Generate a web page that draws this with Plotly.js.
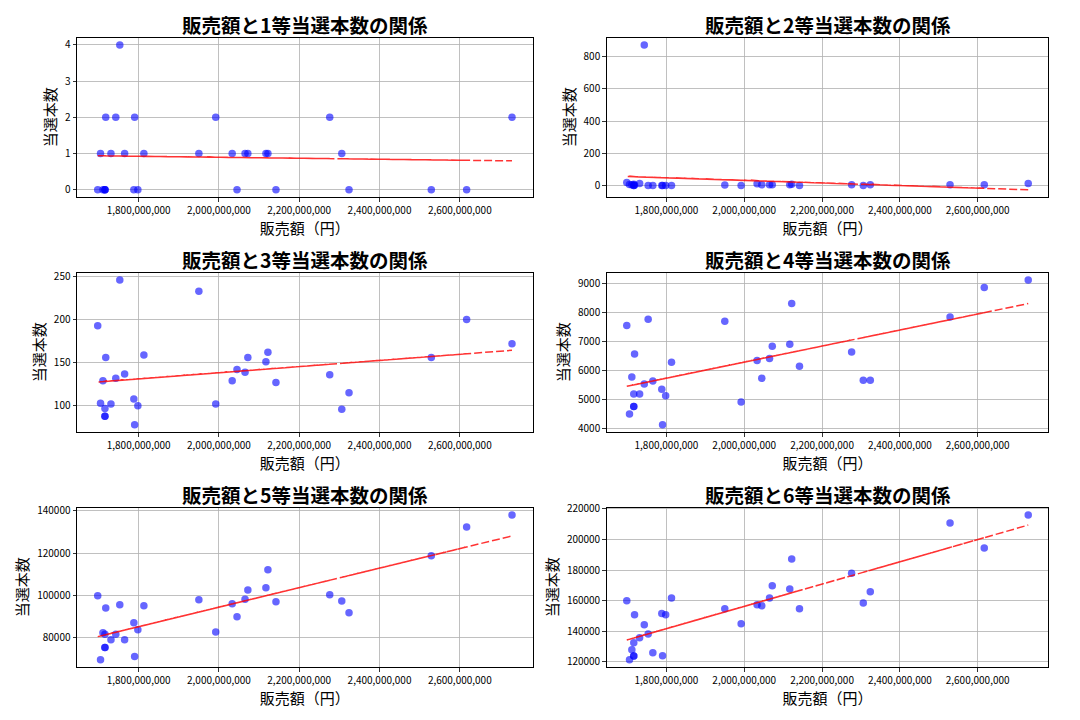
<!DOCTYPE html>
<html>
<head>
<meta charset="utf-8">
<script src="https://cdn.plot.ly/plotly-3.0.1.min.js"></script>
<style>
  html, body { margin: 0; padding: 0; background: #fff; }
  #chart { width: 1080px; height: 720px; }
</style>
</head>
<body>
<div id="chart"></div>
<script>
// Sales per draw (yen), listed in the data's row order
const sales = [1950e6, 1711e6, 2122e6, 1753e6, 2033e6, 1698e6, 2276e6, 1790e6, 2065e6, 1731e6,
               1716e6, 1716e6, 2117e6, 1765e6, 1992e6, 1813e6, 1716e6, 2072e6, 1788e6, 1705e6,
               2142e6, 1743e6, 2045e6, 1798e6, 1718e6, 2617e6, 2306e6, 2529e6, 2324e6, 2730e6];

const winners1 = [1, 0, 1, 4, 1, 0, 2, 2, 1, 1,
                  0, 0, 1, 1, 2, 1, 0, 1, 0, 1,
                  0, 2, 0, 0, 2, 0, 1, 0, 0, 2];
const winners2 = [5, 6, 9, 1, 12, 20, 7, 1, 6, 14,
                  2, 2, 6, 2, 1, 2, 10, 7, 2, 8,
                  1, 870, 6, 2, 4, 7, 1, 7, 7, 14];
const winners3 = [233, 129, 162, 246, 129, 193, 136, 78, 139, 102,
                  88, 88, 151, 137, 102, 159, 97, 156, 108, 103,
                  127, 132, 142, 100, 156, 200, 96, 156, 115, 172];
const winners4 = [7690, 5770, 8310, 7760, 6340, 7550, 6630, 4120, 6410, 5180,
                  4750, 4750, 6900, 5630, 4910, 6280, 5180, 6830, 5350, 4490,
                  6140, 5530, 5730, 5120, 6560, 8860, 5660, 7840, 5660, 9120];
const winners5 = [97900, 82400, 112100, 95600, 96000, 99800, 100300, 71100, 98200, 79100,
                  75400, 75400, 103600, 79100, 82700, 95100, 81700, 102600, 87100, 69600,
                  97000, 81600, 89900, 83800, 94100, 132300, 97400, 118700, 91800, 138000];
const winners6 = [154700, 127800, 187300, 138100, 157300, 159900, 178000, 123900, 161800, 135700,
                  123700, 123700, 167700, 125900, 144800, 161800, 132400, 169700, 151600, 121300,
                  154700, 144200, 156600, 150700, 150700, 194500, 158400, 210900, 165800, 216100];

const prizeLabels = ['1等', '2等', '3等', '4等', '5等', '6等'];
const yDticks = [1, 200, 50, 1000, 20000, 20000];
const allWinners = [winners1, winners2, winners3, winners4, winners5, winners6];

const FONT = '"Noto Sans CJK JP", "Noto Sans", sans-serif';

function fit(xs, ys) {
  const n = xs.length;
  let mx = 0, my = 0;
  for (let i = 0; i < n; i++) { mx += xs[i]; my += ys[i]; }
  mx /= n; my /= n;
  let sxy = 0, sxx = 0;
  for (let i = 0; i < n; i++) { sxy += (xs[i] - mx) * (ys[i] - my); sxx += (xs[i] - mx) ** 2; }
  const b = sxy / sxx;
  const a = my - b * mx;
  return xs.map(x => a + b * x);
}
function padRange(vals) {
  const mn = Math.min(...vals), mx = Math.max(...vals);
  const p = (mx - mn) * 0.05;
  return [mn - p, mx + p];
}

// Plot areas in pixels
const colX = [[77, 532.7], [606.7, 1048.3]];
const rowY = [[37.7, 197], [272.7, 432], [507.7, 667]];
const W = 1080, H = 720;

const traces = [];
const layout = {
  width: W, height: H,
  margin: {l: 0, r: 0, t: 0, b: 0},
  paper_bgcolor: '#fff', plot_bgcolor: '#fff',
  showlegend: false,
  font: {family: FONT, color: '#000', size: 10},
  annotations: []
};

const xRange = padRange(sales);

allWinners.forEach((ys, i) => {
  const k = i + 1;
  const xa = k === 1 ? 'x' : 'x' + k;
  const ya = k === 1 ? 'y' : 'y' + k;
  const col = i % 2, row = Math.floor(i / 2);
  const fitted = fit(sales, ys);

  traces.push({
    type: 'scatter', mode: 'markers', x: sales, y: ys, xaxis: xa, yaxis: ya,
    marker: {size: 7.5, color: 'rgba(0,0,255,0.6)', line: {width: 0}},
    hoverinfo: 'skip'
  });
  traces.push({
    type: 'scatter', mode: 'lines', x: sales, y: fitted, xaxis: xa, yaxis: ya,
    line: {color: 'rgba(255,0,0,0.8)', width: 1.5, dash: '8px,3px', simplify: false},
    hoverinfo: 'skip'
  });

  const xd = [colX[col][0] / W, colX[col][1] / W];
  const yd = [1 - rowY[row][1] / H, 1 - rowY[row][0] / H];
  const axCommon = {
    showgrid: true, gridcolor: '#b0b0b0', gridwidth: 0.8,
    zeroline: false, showline: true, mirror: true, linecolor: '#000', linewidth: 1,
    ticks: 'outside', ticklen: 3.5, tickwidth: 0.8, tickcolor: '#000',
    tickfont: {family: FONT, size: 10, color: '#000'}
  };
  layout['xaxis' + (k === 1 ? '' : k)] = Object.assign({}, axCommon, {
    domain: xd, anchor: ya, range: xRange,
    tick0: 0, dtick: 2e8, tickformat: ',d',
    title: {text: '販売額（円）', font: {family: FONT, size: 15, color: '#000'}, standoff: 4}
  });
  layout['yaxis' + (k === 1 ? '' : k)] = Object.assign({}, axCommon, {
    domain: yd, anchor: xa, range: padRange(ys.concat(fitted)),
    tick0: 0, dtick: yDticks[i], tickformat: 'd',
    title: {text: '当選本数', font: {family: FONT, size: 15, color: '#000'}, standoff: 4}
  });
  layout.annotations.push({
    xref: 'paper', yref: 'paper',
    x: (xd[0] + xd[1]) / 2, y: yd[1], yshift: 13,
    xanchor: 'center', yanchor: 'middle', showarrow: false,
    text: '<b>販売額と' + prizeLabels[i] + '当選本数の関係</b>',
    font: {family: FONT, size: 19.5, color: '#000'}
  });
});

Plotly.newPlot('chart', traces, layout, {staticPlot: true, displayModeBar: false});
</script>
</body>
</html>
